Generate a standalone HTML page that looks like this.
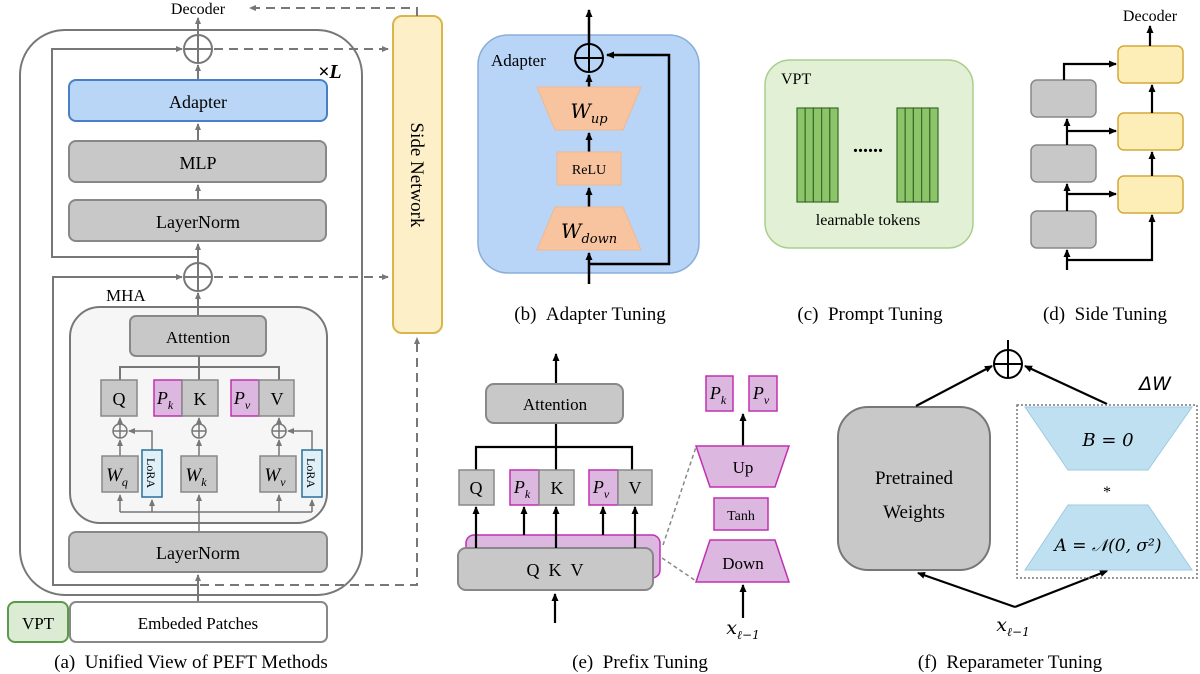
<!DOCTYPE html>
<html><head><meta charset="utf-8"><style>
html,body{margin:0;padding:0;background:#fff;}
svg{display:block;font-family:"Liberation Serif",serif;}
</style></head><body>
<svg width="1200" height="674" viewBox="0 0 1200 674" xmlns="http://www.w3.org/2000/svg">
<defs>
<marker id="ag" markerWidth="8" markerHeight="8" refX="6" refY="4" orient="auto" markerUnits="userSpaceOnUse"><path d="M0,1 L7,4 L0,7 z" fill="#777"/></marker>
<marker id="ab" markerWidth="9" markerHeight="9" refX="7" refY="4.5" orient="auto" markerUnits="userSpaceOnUse"><path d="M0,1 L8,4.5 L0,8 z" fill="#000"/></marker>
</defs>

<!-- Panel (a) -->
<rect x="20" y="30" width="342" height="565" rx="45" fill="none" stroke="#777" stroke-width="2"/>
<text x="198" y="14" font-size="16" text-anchor="middle">Decoder</text>
<line x1="198" y1="34" x2="198" y2="18" stroke="#777" stroke-width="2" marker-end="url(#ag)"/>
<circle cx="198" cy="49" r="14" fill="#fff" stroke="#777" stroke-width="2"/>
<line x1="184" y1="49" x2="212" y2="49" stroke="#777" stroke-width="2"/><line x1="198" y1="35" x2="198" y2="63" stroke="#777" stroke-width="2"/>
<polyline points="198,257 52,257 52,49 182,49" fill="none" stroke="#777" stroke-width="2" marker-end="url(#ag)"/>
<line x1="198" y1="80" x2="198" y2="65" stroke="#777" stroke-width="2" marker-end="url(#ag)"/>
<text x="318" y="78" font-size="20" font-weight="bold" font-style="italic">×L</text>
<rect x="69" y="80" width="258" height="41" rx="7" fill="#b9d6f7" stroke="#4a7fc7" stroke-width="2"/>
<text x="198" y="108" font-size="18" text-anchor="middle">Adapter</text>
<line x1="198" y1="141" x2="198" y2="124" stroke="#777" stroke-width="2" marker-end="url(#ag)"/>
<rect x="69" y="141" width="257" height="41" rx="7" fill="#c8c8c8" stroke="#888" stroke-width="2"/>
<text x="198" y="169" font-size="18" text-anchor="middle">MLP</text>
<line x1="198" y1="200" x2="198" y2="185" stroke="#777" stroke-width="2" marker-end="url(#ag)"/>
<rect x="69" y="200" width="257" height="41" rx="7" fill="#c8c8c8" stroke="#888" stroke-width="2"/>
<text x="198" y="228" font-size="18" text-anchor="middle">LayerNorm</text>
<line x1="198" y1="263" x2="198" y2="244" stroke="#777" stroke-width="2" marker-end="url(#ag)"/>
<circle cx="198" cy="277" r="14" fill="#fff" stroke="#777" stroke-width="2"/>
<line x1="184" y1="277" x2="212" y2="277" stroke="#777" stroke-width="2"/><line x1="198" y1="263" x2="198" y2="291" stroke="#777" stroke-width="2"/>
<polyline points="198,585 53,585 53,277 182,277" fill="none" stroke="#777" stroke-width="2" marker-end="url(#ag)"/>
<text x="106" y="301" font-size="17">MHA</text>
<rect x="70" y="307" width="257" height="216" rx="30" fill="#f6f6f6" stroke="#777" stroke-width="2"/>
<line x1="198" y1="316" x2="198" y2="293" stroke="#777" stroke-width="2" marker-end="url(#ag)"/>
<rect x="130" y="316" width="136" height="40" rx="6" fill="#c8c8c8" stroke="#888" stroke-width="2"/>
<text x="198" y="343" font-size="17" text-anchor="middle">Attention</text>
<polyline points="120,380 120,367 279,367 279,380" fill="none" stroke="#777" stroke-width="2"/>
<line x1="199" y1="356" x2="199" y2="380" stroke="#777" stroke-width="2"/>
<rect x="101" y="380" width="36" height="36" fill="#c8c8c8" stroke="#888" stroke-width="1.5"/>
<text x="119" y="405" font-size="18" text-anchor="middle">Q</text>
<rect x="154" y="380" width="28" height="36" fill="#dcb8e0" stroke="#c030b0" stroke-width="1.5"/>
<text x="165" y="404" font-size="18" font-style="italic" text-anchor="middle">P<tspan font-size="12" dy="5">k</tspan></text>
<rect x="182" y="380" width="36" height="36" fill="#c8c8c8" stroke="#888" stroke-width="1.5"/>
<text x="200" y="405" font-size="18" text-anchor="middle">K</text>
<rect x="231" y="380" width="28" height="36" fill="#dcb8e0" stroke="#c030b0" stroke-width="1.5"/>
<text x="242" y="404" font-size="18" font-style="italic" text-anchor="middle">P<tspan font-size="12" dy="5">v</tspan></text>
<rect x="259" y="380" width="35" height="36" fill="#c8c8c8" stroke="#888" stroke-width="1.5"/>
<text x="277" y="405" font-size="18" text-anchor="middle">V</text>
<g stroke="#777" stroke-width="1.5" fill="none">
<circle cx="120" cy="431" r="7"/><line x1="113" y1="431" x2="127" y2="431"/><line x1="120" y1="424" x2="120" y2="438"/>
<circle cx="199" cy="431" r="7"/><line x1="192" y1="431" x2="206" y2="431"/><line x1="199" y1="424" x2="199" y2="438"/>
<circle cx="279" cy="431" r="7"/><line x1="272" y1="431" x2="286" y2="431"/><line x1="279" y1="424" x2="279" y2="438"/>
<line x1="120" y1="424" x2="120" y2="418" marker-end="url(#ag)"/>
<line x1="199" y1="424" x2="199" y2="418" marker-end="url(#ag)"/>
<line x1="279" y1="424" x2="279" y2="418" marker-end="url(#ag)"/>
<line x1="120" y1="456" x2="120" y2="440" marker-end="url(#ag)"/>
<line x1="199" y1="456" x2="199" y2="440" marker-end="url(#ag)"/>
<line x1="279" y1="456" x2="279" y2="440" marker-end="url(#ag)"/>
<polyline points="152,450 152,431 129,431" marker-end="url(#ag)"/>
<polyline points="312,450 312,431 288,431" marker-end="url(#ag)"/>
<line x1="120" y1="512" x2="312" y2="512"/>
<line x1="120" y1="512" x2="120" y2="495" marker-end="url(#ag)"/>
<line x1="152" y1="512" x2="152" y2="500" marker-end="url(#ag)"/>
<line x1="279" y1="512" x2="279" y2="495" marker-end="url(#ag)"/>
<line x1="312" y1="512" x2="312" y2="500" marker-end="url(#ag)"/>
<line x1="199" y1="532" x2="199" y2="495" marker-end="url(#ag)"/>
</g>
<rect x="102" y="456" width="36" height="36" fill="#c8c8c8" stroke="#888" stroke-width="1.5"/>
<text x="117" y="481" font-size="19" font-style="italic" text-anchor="middle">W<tspan font-size="12" dy="5">q</tspan></text>
<rect x="181" y="456" width="36" height="36" fill="#c8c8c8" stroke="#888" stroke-width="1.5"/>
<text x="196" y="481" font-size="19" font-style="italic" text-anchor="middle">W<tspan font-size="12" dy="5">k</tspan></text>
<rect x="260" y="456" width="36" height="36" fill="#c8c8c8" stroke="#888" stroke-width="1.5"/>
<text x="275" y="481" font-size="19" font-style="italic" text-anchor="middle">W<tspan font-size="12" dy="5">v</tspan></text>
<rect x="142" y="450" width="20" height="47" fill="#dff0f8" stroke="#2a6f95" stroke-width="1.5"/>
<text transform="translate(147,473) rotate(90)" font-size="12" text-anchor="middle">LoRA</text>
<rect x="302" y="450" width="20" height="47" fill="#dff0f8" stroke="#2a6f95" stroke-width="1.5"/>
<text transform="translate(307,473) rotate(90)" font-size="12" text-anchor="middle">LoRA</text>
<rect x="69" y="532" width="258" height="40" rx="7" fill="#c8c8c8" stroke="#888" stroke-width="2"/>
<text x="198" y="559" font-size="18" text-anchor="middle">LayerNorm</text>
<line x1="198" y1="602" x2="198" y2="575" stroke="#777" stroke-width="2" marker-end="url(#ag)"/>
<rect x="70" y="602" width="257" height="40" rx="6" fill="#fff" stroke="#888" stroke-width="2"/>
<text x="198" y="629" font-size="17" text-anchor="middle">Embeded Patches</text>
<rect x="8" y="602" width="60" height="40" rx="7" fill="#dcebd3" stroke="#5a9a4a" stroke-width="2"/>
<text x="38" y="629" font-size="17" text-anchor="middle">VPT</text>
<text x="191" y="668" font-size="19" text-anchor="middle">(a)&#160;&#160;Unified View of PEFT Methods</text>
<rect x="393" y="16" width="49" height="317" rx="9" fill="#fdf0c8" stroke="#d9b54a" stroke-width="2"/>
<text transform="translate(411,175) rotate(90)" font-size="19" text-anchor="middle">Side Network</text>
<g stroke="#777" stroke-width="2" fill="none" stroke-dasharray="9,6">
<polyline points="417,16 417,8 250,8" marker-end="url(#ag)"/>
<line x1="214" y1="49" x2="388" y2="49" marker-end="url(#ag)"/>
<line x1="214" y1="277" x2="388" y2="277" marker-end="url(#ag)"/>
<polyline points="200,585 417,585 417,338" marker-end="url(#ag)"/>
</g>

<!-- Panel (b) -->
<rect x="478" y="35" width="221" height="238" rx="30" fill="#b8d4f7" stroke="#8aaed8" stroke-width="1.5"/>
<text x="491" y="66" font-size="17">Adapter</text>
<g stroke="#000" stroke-width="2.5" fill="none">
<line x1="589" y1="44" x2="589" y2="10" marker-end="url(#ab)"/>
<line x1="589" y1="87" x2="589" y2="75" marker-end="url(#ab)"/>
<line x1="589" y1="152" x2="589" y2="133" marker-end="url(#ab)"/>
<line x1="589" y1="207" x2="589" y2="188" marker-end="url(#ab)"/>
<line x1="589" y1="284" x2="589" y2="253" marker-end="url(#ab)"/>
<polyline points="589,264 669,264 669,55 607,55" marker-end="url(#ab)"/>
</g>
<circle cx="589" cy="58" r="14" fill="none" stroke="#000" stroke-width="2"/>
<line x1="575" y1="58" x2="603" y2="58" stroke="#000" stroke-width="2"/><line x1="589" y1="44" x2="589" y2="72" stroke="#000" stroke-width="2"/>
<polygon points="537,87 641,87 623,130 555,130" fill="#f8c4a0" stroke="#f0b890"/>
<text x="589" y="118" font-size="20" font-style="italic" text-anchor="middle" font-family="DejaVu Serif">W<tspan font-size="13" dy="5">up</tspan></text>
<rect x="557" y="152" width="64" height="33" fill="#f8c4a0" stroke="#f0b890"/>
<text x="589" y="174" font-size="14" text-anchor="middle">ReLU</text>
<polygon points="555,207 623,207 641,250 537,250" fill="#f8c4a0" stroke="#f0b890"/>
<text x="589" y="238" font-size="20" font-style="italic" text-anchor="middle" font-family="DejaVu Serif">W<tspan font-size="13" dy="5">down</tspan></text>
<text x="590" y="320" font-size="19" text-anchor="middle">(b)&#160;&#160;Adapter Tuning</text>

<!-- Panel (c) -->
<rect x="765" y="60" width="208" height="188" rx="25" fill="#e2f0d5" stroke="#a8cf8f" stroke-width="1.5"/>
<text x="781" y="84" font-size="16">VPT</text>
<g fill="#8cc46a" stroke="#3a6b2a" stroke-width="1.2">
<rect x="797" y="108" width="8.2" height="94"/><rect x="805.2" y="108" width="8.2" height="94"/><rect x="813.4" y="108" width="8.2" height="94"/><rect x="821.6" y="108" width="8.2" height="94"/><rect x="829.8" y="108" width="8.2" height="94"/>
<rect x="897" y="108" width="8.2" height="94"/><rect x="905.2" y="108" width="8.2" height="94"/><rect x="913.4" y="108" width="8.2" height="94"/><rect x="921.6" y="108" width="8.2" height="94"/><rect x="929.8" y="108" width="8.2" height="94"/>
</g>
<text x="868" y="152" font-size="20" font-weight="bold" text-anchor="middle">......</text>
<text x="868" y="225" font-size="16" text-anchor="middle">learnable tokens</text>
<text x="870" y="320" font-size="19" text-anchor="middle">(c)&#160;&#160;Prompt Tuning</text>

<!-- Panel (d) -->
<text x="1150" y="21" font-size="16" text-anchor="middle">Decoder</text>
<g fill="#c8c8c8" stroke="#888" stroke-width="1.5">
<rect x="1031" y="80" width="65" height="37" rx="6"/><rect x="1031" y="145" width="65" height="37" rx="6"/><rect x="1031" y="211" width="65" height="37" rx="6"/>
</g>
<g fill="#fdeeb8" stroke="#d4a838" stroke-width="1.5">
<rect x="1118" y="46" width="65" height="37" rx="6"/><rect x="1118" y="113" width="65" height="37" rx="6"/><rect x="1118" y="176" width="65" height="37" rx="6"/>
</g>
<g stroke="#000" stroke-width="2.2" fill="none">
<line x1="1150" y1="46" x2="1150" y2="26" marker-end="url(#ab)"/>
<polyline points="1064,80 1064,64 1116,64" marker-end="url(#ab)"/>
<line x1="1067" y1="145" x2="1067" y2="119" marker-end="url(#ab)"/>
<line x1="1067" y1="131" x2="1116" y2="131" marker-end="url(#ab)"/>
<line x1="1067" y1="211" x2="1067" y2="184" marker-end="url(#ab)"/>
<line x1="1067" y1="194" x2="1116" y2="194" marker-end="url(#ab)"/>
<line x1="1067" y1="270" x2="1067" y2="250" marker-end="url(#ab)"/>
<polyline points="1067,260 1152,260 1152,215" marker-end="url(#ab)"/>
<line x1="1152" y1="176" x2="1152" y2="152" marker-end="url(#ab)"/>
<line x1="1152" y1="113" x2="1152" y2="85" marker-end="url(#ab)"/>
</g>
<text x="1105" y="320" font-size="19" text-anchor="middle">(d)&#160;&#160;Side Tuning</text>

<!-- Panel (e) -->
<g stroke="#000" stroke-width="2.2" fill="none">
<line x1="556" y1="384" x2="556" y2="354" marker-end="url(#ab)"/>
<polyline points="476,470 476,447 632,447 632,470"/>
<line x1="556" y1="423" x2="556" y2="470"/>
</g>
<rect x="486" y="384" width="137" height="39" rx="8" fill="#c8c8c8" stroke="#888" stroke-width="2"/>
<text x="555" y="410" font-size="17" text-anchor="middle">Attention</text>
<rect x="459" y="470" width="35" height="35" fill="#c8c8c8" stroke="#888" stroke-width="1.5"/>
<text x="476" y="494" font-size="18" text-anchor="middle">Q</text>
<rect x="510" y="470" width="29" height="35" fill="#dcb8e0" stroke="#c030b0" stroke-width="1.5"/>
<text x="522" y="493" font-size="18" font-style="italic" text-anchor="middle">P<tspan font-size="12" dy="5">k</tspan></text>
<rect x="539" y="470" width="35" height="35" fill="#c8c8c8" stroke="#888" stroke-width="1.5"/>
<text x="557" y="494" font-size="18" text-anchor="middle">K</text>
<rect x="589" y="470" width="29" height="35" fill="#dcb8e0" stroke="#c030b0" stroke-width="1.5"/>
<text x="601" y="493" font-size="18" font-style="italic" text-anchor="middle">P<tspan font-size="12" dy="5">v</tspan></text>
<rect x="618" y="470" width="34" height="35" fill="#c8c8c8" stroke="#888" stroke-width="1.5"/>
<text x="635" y="494" font-size="18" text-anchor="middle">V</text>
<rect x="466" y="535" width="194" height="43" rx="8" fill="#dcb8e0" stroke="#c030b0" stroke-width="1.5"/>
<rect x="458" y="548" width="195" height="42" rx="8" fill="#c8c8c8" stroke="#888" stroke-width="2"/>
<text x="555" y="576" font-size="18" text-anchor="middle">Q&#160;&#160;K&#160;&#160;V</text>
<g stroke="#000" stroke-width="2.2" fill="none">
<line x1="476" y1="548" x2="476" y2="507" marker-end="url(#ab)"/>
<line x1="524" y1="535" x2="524" y2="507" marker-end="url(#ab)"/>
<line x1="556" y1="548" x2="556" y2="507" marker-end="url(#ab)"/>
<line x1="603" y1="535" x2="603" y2="507" marker-end="url(#ab)"/>
<line x1="635" y1="548" x2="635" y2="507" marker-end="url(#ab)"/>
<line x1="555" y1="623" x2="555" y2="594" marker-end="url(#ab)"/>
<line x1="743" y1="446" x2="743" y2="414" marker-end="url(#ab)"/>
<line x1="743" y1="618" x2="743" y2="585" marker-end="url(#ab)"/>
</g>
<g stroke="#888" stroke-width="1.5" stroke-dasharray="4,3"><line x1="663" y1="545" x2="696" y2="447"/><line x1="662" y1="558" x2="696" y2="581"/></g>
<rect x="706" y="376" width="27" height="35" fill="#dcb8e0" stroke="#c030b0" stroke-width="1.5"/>
<text x="718" y="399" font-size="18" font-style="italic" text-anchor="middle">P<tspan font-size="12" dy="5">k</tspan></text>
<rect x="749" y="376" width="28" height="35" fill="#dcb8e0" stroke="#c030b0" stroke-width="1.5"/>
<text x="761" y="399" font-size="18" font-style="italic" text-anchor="middle">P<tspan font-size="12" dy="5">v</tspan></text>
<polygon points="696,446 789,446 775,487 710,487" fill="#dcb8e0" stroke="#c030b0" stroke-width="1.5"/>
<text x="743" y="473" font-size="17" text-anchor="middle">Up</text>
<rect x="714" y="498" width="54" height="32" fill="#dcb8e0" stroke="#c030b0" stroke-width="1.5"/>
<text x="741" y="520" font-size="14" text-anchor="middle">Tanh</text>
<polygon points="710,540 775,540 789,582 696,582" fill="#dcb8e0" stroke="#c030b0" stroke-width="1.5"/>
<text x="743" y="569" font-size="17" text-anchor="middle">Down</text>
<text x="743" y="634" font-size="19" font-style="italic" text-anchor="middle" font-family="DejaVu Serif">x<tspan font-size="12" dy="5">ℓ−1</tspan></text>
<text x="640" y="668" font-size="19" text-anchor="middle">(e)&#160;&#160;Prefix Tuning</text>

<!-- Panel (f) -->
<rect x="838" y="407" width="152" height="163" rx="30" fill="#c8c8c8" stroke="#777" stroke-width="2"/>
<text x="914" y="484" font-size="19" text-anchor="middle">Pretrained</text>
<text x="914" y="518" font-size="19" text-anchor="middle">Weights</text>
<circle cx="1008" cy="364" r="14" fill="none" stroke="#000" stroke-width="2"/>
<line x1="994" y1="364" x2="1022" y2="364" stroke="#000" stroke-width="2"/><line x1="1008" y1="350" x2="1008" y2="378" stroke="#000" stroke-width="2"/>
<line x1="1008" y1="350" x2="1008" y2="340" stroke="#000" stroke-width="2"/>
<g stroke="#000" stroke-width="2.2" fill="none">
<line x1="916" y1="406" x2="992" y2="366" marker-end="url(#ab)"/>
<line x1="1107" y1="404" x2="1025" y2="366" marker-end="url(#ab)"/>
<line x1="1015" y1="607" x2="918" y2="573" marker-end="url(#ab)"/>
<line x1="1015" y1="607" x2="1107" y2="571" marker-end="url(#ab)"/>
</g>
<rect x="1017" y="405" width="180" height="173" fill="none" stroke="#777" stroke-width="1.5" stroke-dasharray="2,2"/>
<text x="1155" y="390" font-size="19" font-style="italic" text-anchor="middle" font-family="DejaVu Sans">ΔW</text>
<polygon points="1025,407 1192,407 1148,470 1068,470" fill="#bfe0f0" stroke="#9ccbe3"/>
<text x="1108" y="446" font-size="18" font-style="italic" text-anchor="middle" font-family="DejaVu Serif">B = 0</text>
<text x="1107" y="497" font-size="16" text-anchor="middle">*</text>
<polygon points="1068,505 1148,505 1192,570 1025,570" fill="#bfe0f0" stroke="#9ccbe3"/>
<text x="1108" y="551" font-size="17" font-style="italic" text-anchor="middle" font-family="DejaVu Serif">A = 𝒩(0, σ²)</text>
<text x="1013" y="631" font-size="19" font-style="italic" text-anchor="middle" font-family="DejaVu Serif">x<tspan font-size="12" dy="5">ℓ−1</tspan></text>
<text x="1010" y="668" font-size="19" text-anchor="middle">(f)&#160;&#160;Reparameter Tuning</text>
</svg>
</body></html>
